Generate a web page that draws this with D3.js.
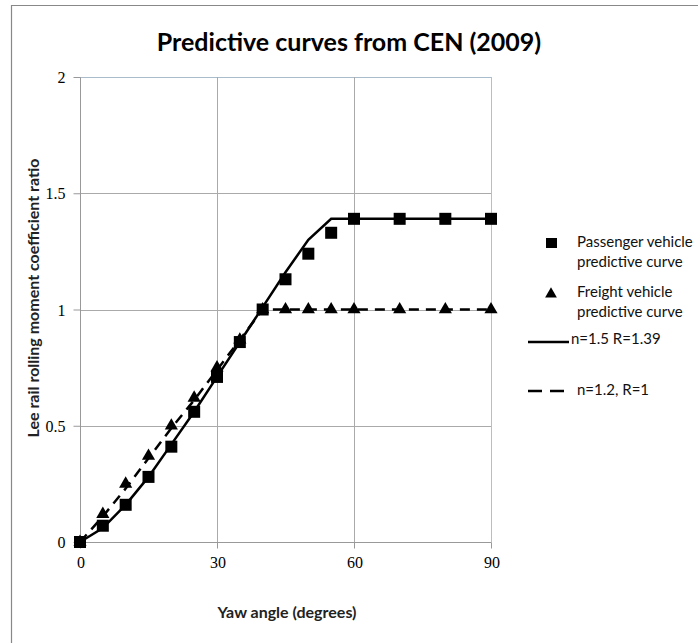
<!DOCTYPE html>
<html><head><meta charset="utf-8">
<script src="https://cdn.jsdelivr.net/npm/d3@7/dist/d3.min.js"></script>
<style>body{margin:0;background:#fff}</style>
</head><body>
<svg id="c" width="698" height="643"></svg>
<script>
const xTicks = [0, 30, 60, 90];
const yTicks = [0, 0.5, 1, 1.5, 2];
const markerX = [0, 5, 10, 15, 20, 25, 30, 35, 40, 45, 50, 55, 60, 70, 80, 90];
const passenger = [0, 0.07, 0.16, 0.28, 0.41, 0.56, 0.71, 0.86, 1.0, 1.13, 1.24, 1.33, 1.39, 1.39, 1.39, 1.39];
const freight = [0, 0.12, 0.25, 0.37, 0.50, 0.62, 0.75, 0.87, 1.0, 1.0, 1.0, 1.0, 1.0, 1.0, 1.0, 1.0];
const lineSolid = [0, 0.06, 0.16, 0.28, 0.42, 0.56, 0.71, 0.86, 1.01, 1.16, 1.30, 1.39, 1.39, 1.39, 1.39, 1.39];
const lineDashed = [0, 0.11, 0.23, 0.36, 0.49, 0.61, 0.74, 0.87, 1.0, 1.0, 1.0, 1.0, 1.0, 1.0, 1.0, 1.0];
const legendLabels = [["Passenger vehicle", "predictive curve"], ["Freight vehicle", "predictive curve"], ["n=1.5 R=1.39"], ["n=1.2, R=1"]];

const svg = d3.select("#c");
// outer frame
svg.append("path").attr("d", "M11.5,643 L11.5,5.5 L698,5.5").attr("fill", "none").attr("stroke", "#888").attr("stroke-width", 1.2);

const x = d3.scaleLinear().domain([0, 90]).range([80, 491]);
const y = d3.scaleLinear().domain([0, 2]).range([542, 77]);

// gridlines
svg.append("g").selectAll("line").data(yTicks.slice(1)).join("line")
  .attr("x1", x(0)).attr("x2", x(90))
  .attr("y1", d => Math.round(y(d)) + 0.5).attr("y2", d => Math.round(y(d)) + 0.5)
  .attr("stroke", d => d === 2 ? "#a9bccb" : "#aaaaaa").attr("stroke-width", 1);
svg.append("g").selectAll("line").data(xTicks.slice(1)).join("line")
  .attr("y1", y(0)).attr("y2", y(2))
  .attr("x1", d => Math.round(x(d)) + 0.5).attr("x2", d => Math.round(x(d)) + 0.5)
  .attr("stroke", d => d === 90 ? "#a9c3d3" : "#aaaaaa").attr("stroke-width", 1);

// axes
const xAxis = d3.axisBottom(x).tickValues(xTicks).tickSize(6).tickPadding(8).tickFormat(d3.format("d"));
const gx = svg.append("g").attr("transform", `translate(0.5,${Math.round(y(0)) + 0.5})`).call(xAxis);
gx.select(".domain").attr("stroke", "#999").attr("d", `M${x(0)},0H${x(90)}`);
gx.selectAll(".tick line").attr("stroke", "#999").attr("transform", "translate(-0.5,0)");
gx.selectAll("text").attr("font-family", "Liberation Serif, serif").attr("font-size", 16).attr("fill", "#000");

const yAxis = d3.axisLeft(y).tickValues(yTicks).tickSize(7).tickPadding(8).tickFormat(d => d);
const gy = svg.append("g").attr("transform", `translate(${Math.round(x(0)) + 0.5},0.5)`).call(yAxis);
gy.select(".domain").attr("stroke", "#999").attr("d", `M0,${y(0)}V${y(2)}`);
gy.selectAll(".tick line").attr("stroke", "#999").attr("transform", "translate(0,-0.5)");
gy.selectAll("text").attr("font-family", "Liberation Serif, serif").attr("font-size", 16).attr("fill", "#000");

// lines
const solidData = markerX.map((d, i) => [d, lineSolid[i]]);
const dashData = markerX.map((d, i) => [d, lineDashed[i]]);
const line = d3.line().x(d => x(d[0])).y(d => y(d[1]));
svg.append("path").datum(dashData).attr("d", line).attr("fill", "none").attr("stroke", "#000").attr("stroke-width", 2.5).attr("stroke-dasharray", "10,7");
svg.append("path").datum(solidData).attr("d", line).attr("fill", "none").attr("stroke", "#000").attr("stroke-width", 2.5);

// markers
const tri = d3.symbol().type(d3.symbolTriangle).size(75);
svg.append("g").selectAll("path").data(markerX.map((d, i) => [d, freight[i]])).join("path")
  .attr("d", tri).attr("transform", d => `translate(${x(d[0])},${y(d[1])})`).attr("fill", "#000");
svg.append("g").selectAll("rect").data(markerX.map((d, i) => [d, passenger[i]])).join("rect")
  .attr("x", d => x(d[0]) - 6).attr("y", d => y(d[1]) - 6).attr("width", 12).attr("height", 12).attr("fill", "#000");

// title
svg.append("text").attr("x", 349).attr("y", 51).attr("text-anchor", "middle")
  .attr("font-family", "Lato, sans-serif").attr("font-weight", "bold").attr("font-size", 25).attr("fill", "#000")
  .text("Predictive curves from CEN (2009)");

// axis titles
svg.append("text").attr("x", 287).attr("y", 618).attr("text-anchor", "middle")
  .attr("font-family", "Lato, sans-serif").attr("font-weight", "bold").attr("font-size", 16).attr("fill", "#222")
  .text("Yaw angle (degrees)");
svg.append("text").attr("transform", "translate(39,298) rotate(-90)").attr("text-anchor", "middle")
  .attr("font-family", "Lato, sans-serif").attr("font-weight", "bold").attr("font-size", 16).attr("fill", "#222")
  .text("Lee rail rolling moment coefficient ratio");

// legend
const lg = svg.append("g").attr("font-family", "Lato, sans-serif").attr("font-size", 15).attr("fill", "#111");
lg.append("rect").attr("x", 546).attr("y", 238).attr("width", 11).attr("height", 10).attr("fill", "#000");
lg.append("path").attr("d", d3.symbol().type(d3.symbolTriangle).size(60)).attr("transform", "translate(551,294)").attr("fill", "#000");
lg.append("line").attr("x1", 528).attr("x2", 569).attr("y1", 342).attr("y2", 342).attr("stroke", "#000").attr("stroke-width", 2.5);
lg.append("line").attr("x1", 528).attr("x2", 564).attr("y1", 391).attr("y2", 391).attr("stroke", "#000").attr("stroke-width", 2.5).attr("stroke-dasharray", "14,8");
const legendPos = [[577, 247], [577, 297], [571, 344], [577, 395]];
legendLabels.forEach((lines, i) => {
  lines.forEach((t, j) => {
    lg.append("text").attr("x", legendPos[i][0]).attr("y", legendPos[i][1] + j * 20).text(t);
  });
});
</script>
</body></html>
